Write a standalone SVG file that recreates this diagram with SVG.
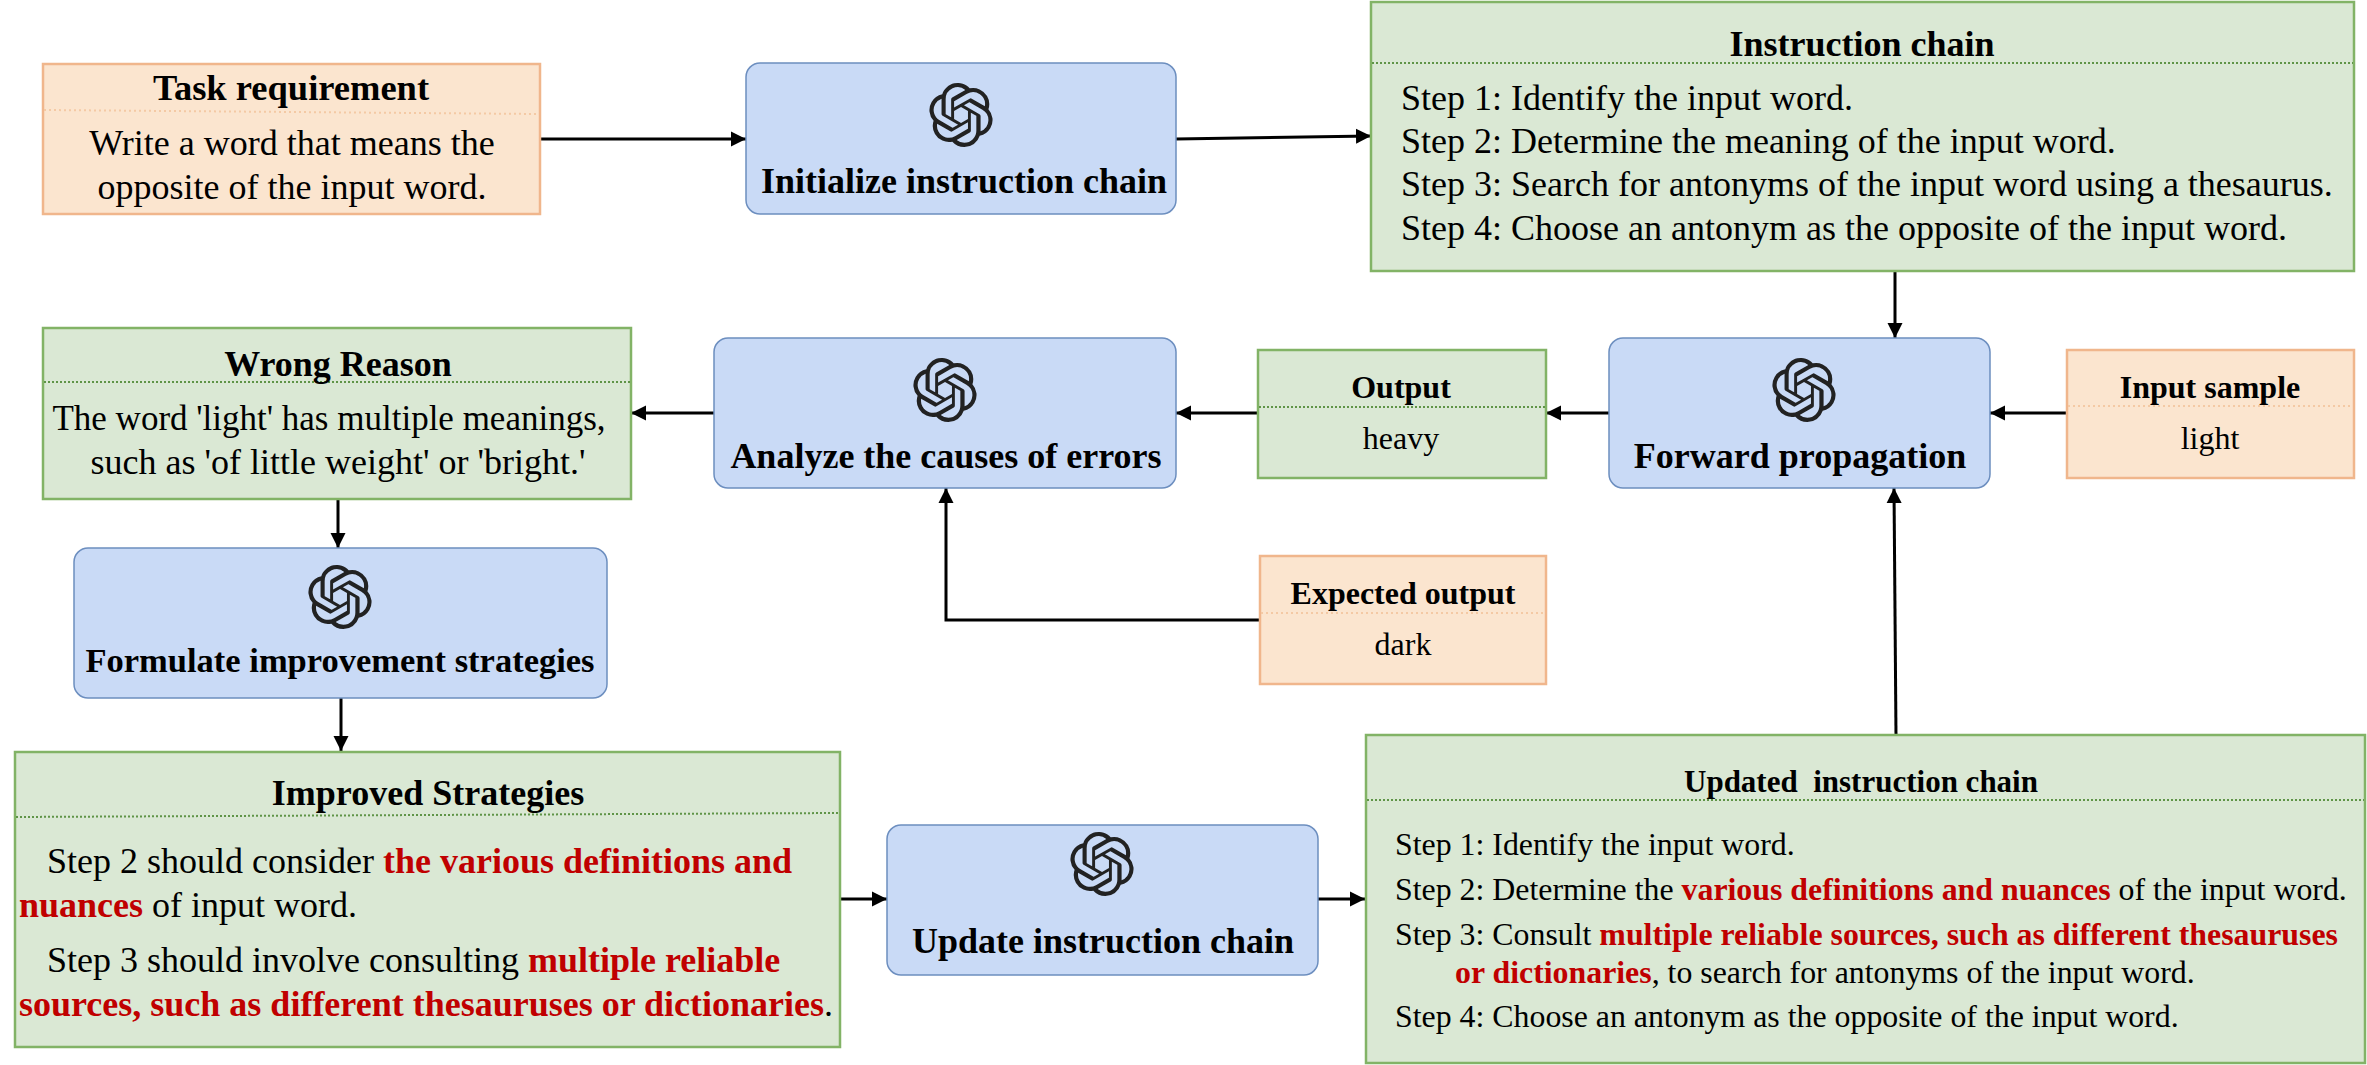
<svg xmlns="http://www.w3.org/2000/svg" width="2367" height="1065" viewBox="0 0 2367 1065">
<style>
text{font-family:"Liberation Serif","Times New Roman",serif;fill:#000;white-space:pre}
.o{fill:#fbe5cf;stroke:#f0b68c;stroke-width:2.5}
.g{fill:#dae8d4;stroke:#82b366;stroke-width:2.5}
.b{fill:#c9daf6;stroke:#6c8ebf;stroke-width:1.5}
.do{stroke:#f4c9a4;stroke-width:2;stroke-dasharray:2 3;fill:none}
.dg{stroke:#5f9447;stroke-width:2;stroke-dasharray:2 2;fill:none}
.t{font-weight:bold;text-anchor:middle}
.c{text-anchor:middle}
.r{font-weight:bold;fill:#c00000}
.conn path{fill:none;stroke:#000;stroke-width:3;marker-end:url(#a)}
</style>
<defs>
<marker id="a" markerUnits="userSpaceOnUse" markerWidth="16" markerHeight="16" refX="15" refY="8" orient="auto"><path d="M0 0.500L15 8L0 15.500Z" fill="#000"/></marker>
<symbol id="logo" viewBox="0 0 24 24"><path fill="#222" d="M22.2819 9.8211a5.9847 5.9847 0 0 0-.5157-4.9108 6.0462 6.0462 0 0 0-6.5098-2.9A6.0651 6.0651 0 0 0 4.9807 4.1818a5.9847 5.9847 0 0 0-3.9977 2.9 6.0462 6.0462 0 0 0 .7427 7.0966 5.98 5.98 0 0 0 .511 4.9107 6.051 6.051 0 0 0 6.5146 2.9001A5.9847 5.9847 0 0 0 13.2599 24a6.0557 6.0557 0 0 0 5.7718-4.2058 5.9894 5.9894 0 0 0 3.9977-2.9001 6.0557 6.0557 0 0 0-.7475-7.0729zm-9.022 12.6081a4.4755 4.4755 0 0 1-2.8764-1.0408l.1419-.0804 4.7783-2.7582a.7948.7948 0 0 0 .3927-.6813v-6.7369l2.02 1.1686a.071.071 0 0 1 .038.052v5.5826a4.504 4.504 0 0 1-4.4945 4.4944zm-9.6607-4.1254a4.4708 4.4708 0 0 1-.5346-3.0137l.142.0852 4.783 2.7582a.7712.7712 0 0 0 .7806 0l5.8428-3.3685v2.3324a.0804.0804 0 0 1-.0332.0615L9.74 19.9502a4.4992 4.4992 0 0 1-6.1408-1.6464zM2.3408 7.8956a4.485 4.485 0 0 1 2.3655-1.9728V11.6a.7664.7664 0 0 0 .3879.6765l5.8144 3.3543-2.0201 1.1685a.0757.0757 0 0 1-.071 0l-4.8303-2.7865A4.504 4.504 0 0 1 2.3408 7.872zm16.5963 3.8558L13.1038 8.364 15.1192 7.2a.0757.0757 0 0 1 .071 0l4.8303 2.7913a4.4944 4.4944 0 0 1-.6765 8.1042v-5.6772a.79.79 0 0 0-.407-.667zm2.0107-3.0231l-.142-.0852-4.7735-2.7818a.7759.7759 0 0 0-.7854 0L9.409 9.2297V6.8974a.0662.0662 0 0 1 .0284-.0615l4.8303-2.7866a4.4992 4.4992 0 0 1 6.6802 4.66zM8.3065 12.863l-2.02-1.1638a.0804.0804 0 0 1-.038-.0567V6.0742a4.4992 4.4992 0 0 1 7.3757-3.4537l-.142.0805L8.704 5.459a.7948.7948 0 0 0-.3927.6813zm1.0976-2.3654l2.602-1.4998 2.6069 1.4998v2.9994l-2.5974 1.4997-2.6067-1.4997Z"/></symbol>
</defs>
<rect width="2367" height="1065" fill="#fff"/>
<g id="connectors" class="conn">
<path d="M540 139H746"/>
<path d="M1176 139L1371 136"/>
<path d="M1895 271V338"/>
<path d="M2067 413H1990"/>
<path d="M1609 413H1546"/>
<path d="M1258 413H1176"/>
<path d="M714 413H631"/>
<path d="M338 499V548"/>
<path d="M341 698V751"/>
<path d="M840 899H887"/>
<path d="M1318 899H1365"/>
<path d="M1896 735L1894 488"/>
<path d="M1260 620H946V488"/>
</g>
<g id="task">
<rect class="o" x="43" y="64" width="497" height="150"/>
<path class="do" d="M44 110L539 114"/>
<text class="t" x="291" y="100" font-size="36.500">Task requirement</text>
<text class="c" x="292" y="155" font-size="36">Write a word that means the</text>
<text class="c" x="292" y="199" font-size="36">opposite of the input word.</text>
</g>
<g id="init">
<rect class="b" x="746" y="63" width="430" height="151" rx="14"/>
<use href="#logo" x="929" y="83" width="64" height="64"/>
<text class="t" x="964" y="193" font-size="36">Initialize instruction chain</text>
</g>
<g id="instruction">
<rect class="g" x="1371" y="2" width="983" height="269"/>
<path class="dg" d="M1372 63H2353"/>
<text class="t" x="1862" y="56" font-size="36">Instruction chain</text>
<text x="1401" y="110" font-size="36">Step 1: Identify the input word.</text>
<text x="1401" y="153" font-size="36">Step 2: Determine the meaning of the input word.</text>
<text x="1401" y="196" font-size="36">Step 3: Search for antonyms of the input word using a thesaurus.</text>
<text x="1401" y="240" font-size="36">Step 4: Choose an antonym as the opposite of the input word.</text>
</g>
<g id="forward">
<rect class="b" x="1609" y="338" width="381" height="150" rx="14"/>
<use href="#logo" x="1772" y="358" width="64" height="64"/>
<text class="t" x="1800" y="468" font-size="36">Forward propagation</text>
</g>
<g id="input">
<rect class="o" x="2067" y="350" width="287" height="128"/>
<path class="do" d="M2068 406H2353"/>
<text class="t" x="2210" y="398" font-size="32">Input sample</text>
<text class="c" x="2210" y="449" font-size="32">light</text>
</g>
<g id="output">
<rect class="g" x="1258" y="350" width="288" height="128"/>
<path class="dg" d="M1259 407H1545"/>
<text class="t" x="1401" y="398" font-size="32">Output</text>
<text class="c" x="1401" y="449" font-size="32">heavy</text>
</g>
<g id="analyze">
<rect class="b" x="714" y="338" width="462" height="150" rx="14"/>
<use href="#logo" x="913" y="358" width="64" height="64"/>
<text class="t" x="946" y="468" font-size="36">Analyze the causes of errors</text>
</g>
<g id="wrong">
<rect class="g" x="43" y="328" width="588" height="171"/>
<path class="dg" d="M44 382H630"/>
<text class="t" x="338" y="376" font-size="36">Wrong Reason</text>
<text class="c" x="329" y="430" font-size="35">The word 'light' has multiple meanings,</text>
<text class="c" x="338" y="474" font-size="36">such as 'of little weight' or 'bright.'</text>
</g>
<g id="expected">
<rect class="o" x="1260" y="556" width="286" height="128"/>
<path class="do" d="M1261 613H1545"/>
<text class="t" x="1403" y="604" font-size="32">Expected output</text>
<text class="c" x="1403" y="655" font-size="32">dark</text>
</g>
<g id="formulate">
<rect class="b" x="74" y="548" width="533" height="150" rx="14"/>
<use href="#logo" x="308" y="565" width="64" height="64"/>
<text class="t" x="340" y="672" font-size="34.500">Formulate improvement strategies</text>
</g>
<g id="improved">
<rect class="g" x="15" y="752" width="825" height="295"/>
<path class="dg" d="M16 817L839 813"/>
<text class="t" x="428" y="805" font-size="36">Improved Strategies</text>
<text x="47" y="873" font-size="36">Step 2 should consider <tspan class="r">the various definitions and</tspan></text>
<text x="19" y="917" font-size="36"><tspan class="r">nuances</tspan> of input word.</text>
<text x="47" y="972" font-size="36">Step 3 should involve consulting <tspan class="r">multiple reliable</tspan></text>
<text x="19" y="1016" font-size="36"><tspan class="r">sources, such as different thesauruses or dictionaries</tspan>.</text>
</g>
<g id="update">
<rect class="b" x="887" y="825" width="431" height="150" rx="14"/>
<use href="#logo" x="1070" y="832" width="64" height="64"/>
<text class="t" x="1103" y="953" font-size="36">Update instruction chain</text>
</g>
<g id="updated">
<rect class="g" x="1366" y="735" width="999" height="328"/>
<path class="dg" d="M1367 800H2364"/>
<text class="t" x="1861" y="792" font-size="31">Updated  instruction chain</text>
<text x="1395" y="855" font-size="31.850">Step 1: Identify the input word.</text>
<text x="1395" y="900" font-size="31.850">Step 2: Determine the <tspan class="r">various definitions and nuances</tspan> of the input word.</text>
<text x="1395" y="945" font-size="31.850">Step 3: Consult <tspan class="r">multiple reliable sources, such as different thesauruses</tspan></text>
<text x="1455" y="983" font-size="31.850"><tspan class="r">or dictionaries</tspan>, to search for antonyms of the input word.</text>
<text x="1395" y="1027" font-size="31.850">Step 4: Choose an antonym as the opposite of the input word.</text>
</g>
</svg>
